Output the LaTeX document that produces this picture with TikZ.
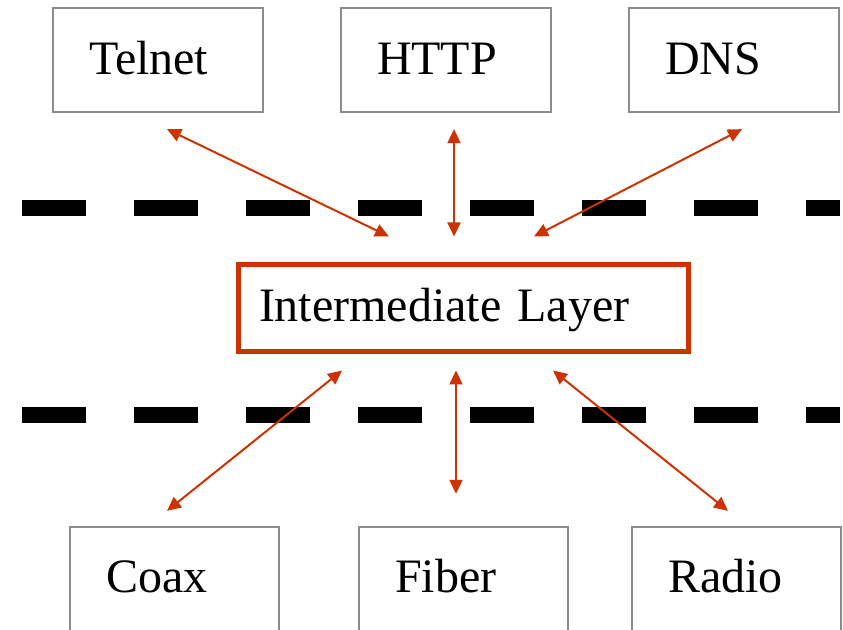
\documentclass[tikz,border=0pt]{standalone}
\usepackage{fontspec}
\setmainfont{Liberation Serif}
\usetikzlibrary{arrows.meta}
\definecolor{boxgray}{HTML}{8C8C8C}
\definecolor{linkred}{HTML}{CC3300}
\begin{document}
\begin{tikzpicture}[x=1pt,y=1pt,
  protobox/.style={draw=boxgray, line width=2.3pt, minimum width=210pt, minimum height=104pt,
    inner xsep=36pt, inner ysep=0pt, text width=138pt, align=left,
    text height=34pt, text depth=4pt, font=\fontsize{48}{58}\selectfont},
  mediabox/.style={protobox, minimum width=209pt, minimum height=140pt, text width=137pt,
    text height=34pt, text depth=42pt},
  midbox/.style={draw=linkred, line width=5pt, minimum width=450pt, minimum height=87pt,
    inner xsep=20.5pt, inner ysep=0pt, text width=409pt, align=left,
    text height=34pt, text depth=6pt, font=\fontsize{48}{58}\selectfont},
  link/.style={draw=linkred, line width=2pt, {Triangle[length=14pt,width=13pt]}-{Triangle[length=14pt,width=13pt]}},
  layerline/.style={line width=16pt, dash pattern=on 64pt off 48pt, line cap=butt}
]
\useasboundingbox (0,0) rectangle (843,629);
\clip (0,0) rectangle (843,629);
% layer separators
\draw[layerline] (22,421) -- (840,421);
\draw[layerline] (22,214) -- (840,214);
% nodes
\node[protobox] (telnet) at (158,569) {Telnet};
\node[protobox] (http) at (446,569) {HTTP};
\node[protobox] (dns) at (734,569) {DNS};
\node[midbox] (mid) at (463.5,321) {Intermediate Layer};
\node[mediabox] (coax) at (174.5,32) {Coax};
\node[mediabox] (fiber) at (463.5,32) {Fiber};
\node[mediabox] (radio) at (736.5,32) {Radio};
% connectors
\draw[link] ([xshift=9pt,yshift=-16pt]telnet.south) -- ([xshift=-74.5pt,yshift=25.5pt]mid.north);
\draw[link] ([xshift=8pt,yshift=-16pt]http.south) -- ([xshift=-9.5pt,yshift=25.5pt]mid.north);
\draw[link] ([xshift=8pt,yshift=-16pt]dns.south) -- ([xshift=70.5pt,yshift=25.5pt]mid.north);
\draw[link] ([xshift=-121.5pt,yshift=-16.5pt]mid.south) -- ([xshift=-7.5pt,yshift=15pt]coax.north);
\draw[link] ([xshift=-7.5pt,yshift=-16.5pt]mid.south) -- ([xshift=-7.5pt,yshift=32pt]fiber.north);
\draw[link] ([xshift=89.5pt,yshift=-16.5pt]mid.south) -- ([xshift=-8.5pt,yshift=15pt]radio.north);
\end{tikzpicture}
\end{document}
